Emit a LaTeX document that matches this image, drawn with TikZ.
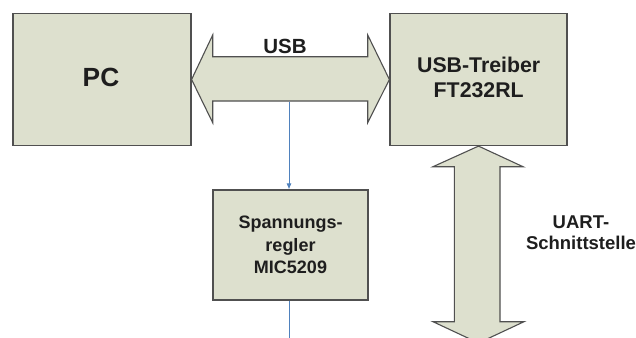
\documentclass[tikz,border=0pt]{standalone}
\usepackage{fontspec}
\setmainfont{Liberation Sans}
\usetikzlibrary{arrows.meta}
\definecolor{boxfill}{RGB}{221,224,206}
\definecolor{boxline}{RGB}{80,80,80}
\definecolor{wire}{RGB}{79,129,189}
\definecolor{txt}{RGB}{30,30,30}
\begin{document}
\begin{tikzpicture}[x=1pt,y=-1pt,
  blk/.style={draw=boxline, fill=boxfill, line width=1.2pt, inner sep=0pt,
    text=txt, align=center},
  fatarrow/.style={draw=boxline, fill=boxfill, line width=1.1pt, line join=miter},
  wireline/.style={draw=wire, line width=0.8pt},
  lbl/.style={text=txt, align=center, inner sep=0pt}]
\useasboundingbox (0,0) rectangle (636,337);
\fill[white] (0,0) rectangle (636,337);
\clip (0,0) rectangle (636,337);

% blocks
\node[blk, minimum width=178pt, minimum height=132pt] (pc) at (102,79.5) {};
\node[lbl, font=\bfseries\fontsize{26.3}{30}\selectfont] (pct) at (101,77.5) {PC};
\node[blk, minimum width=177pt, minimum height=132pt] (ftdi) at (478.5,79.5) {};
\node[lbl, font=\bfseries\fontsize{21.3}{24.4}\selectfont] (ftdit) at (478.7,77.5) {USB-Treiber\\FT232RL};
\node[blk, minimum width=155pt, minimum height=110pt,
  font=\bfseries\fontsize{18}{22.2}\selectfont] (reg) at (290.5,245) {Spannungs-\\regler\\MIC5209};

% USB double arrow between PC and driver
\coordinate (ul) at (pc.east);
\coordinate (ur) at (ftdi.west);
\draw[fatarrow] (ul) -- (212.7,35) -- (212.7,56.7) -- (367.7,56.7) -- (367.7,35)
  -- (ur) -- (367.7,122.7) -- (367.7,101) -- (212.7,101) -- (212.7,122.7) -- cycle;
\node[lbl, font=\bfseries\fontsize{20.5}{24}\selectfont] (usb) at (285,46) {USB};

% UART double arrow
\coordinate (ut) at (ftdi.south);
\coordinate (ub) at (478.5,343);
\draw[fatarrow] (ut) -- (523,166.7) -- (500,166.7) -- (500,321.7) -- (524,321.7)
  -- (ub) -- (433,321.7) -- (454.3,321.7) -- (454.3,166.7) -- (433,166.7) -- cycle;
\node[lbl, font=\bfseries\fontsize{18.5}{21.5}\selectfont] (uart) at (581,232.5) {UART-\\Schnittstelle};

% supply wire
\coordinate (w1) at (289,101.6);
\coordinate (w2) at (289,345);
\draw[wireline, -{Latex[length=6pt,width=5pt]}] (w1) -- (w1 |- reg.north);
\draw[wireline] (w1 |- reg.south) -- (w2);
\end{tikzpicture}
\end{document}
